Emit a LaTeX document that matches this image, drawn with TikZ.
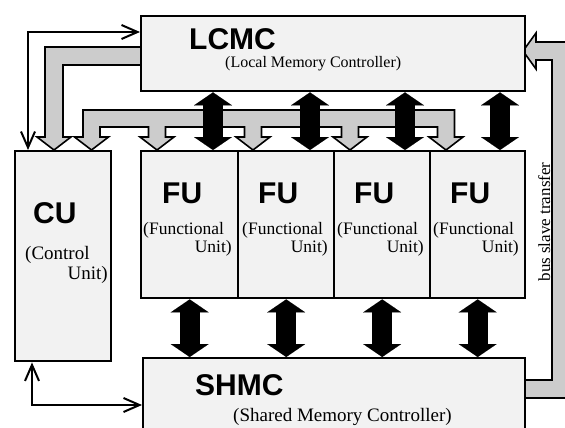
\documentclass[tikz,border=0pt]{standalone}
\usepackage{fontspec}
\setmainfont{Liberation Serif}
\setsansfont{Liberation Sans}
\usetikzlibrary{arrows.meta}
\begin{document}
\begin{tikzpicture}[x=1pt,y=-1pt,
  box/.style={draw, line width=2.4pt, fill=gray!10, inner sep=0pt, anchor=north west},
  band/.style={draw, line width=1.6pt, fill=gray!40, line join=miter},
  bigarrow/.style={line width=20pt,
    {Triangle[width=38pt,length=13pt,line width=0.01pt]}-{Triangle[width=38pt,length=13pt,line width=0.01pt]}},
  thinarr/.style={line width=2pt,
    {Straight Barb[length=16pt,width=14pt]}-{Straight Barb[length=16pt,width=14pt]}},
  title/.style={font=\sffamily\bfseries\fontsize{30}{30}\selectfont, inner sep=0pt, anchor=base west},
  subl/.style={inner sep=0pt, anchor=base west},
  subr/.style={inner sep=0pt, anchor=base east}]
\useasboundingbox (0,0) rectangle (565,428);
\clip (0,0) rectangle (565,428);

% grey buses
\draw[band] (140,47) -- (45,47) -- (45,137) -- (37,137) -- (54,150) -- (71,137) -- (63,137) -- (63,65) -- (140,65);
\draw[band] (83,110) -- (454.5,110) -- (454.5,137) -- (463,137) -- (446,150) -- (429,137) -- (437.5,137) -- (437.5,127)
  -- (358.5,127) -- (358.5,137) -- (367,137) -- (350,150) -- (333,137) -- (341.5,137) -- (341.5,127)
  -- (261.5,127) -- (261.5,137) -- (270,137) -- (253,150) -- (236,137) -- (244.5,137) -- (244.5,127)
  -- (165.5,127) -- (165.5,137) -- (174,137) -- (157,150) -- (140,137) -- (148.5,137) -- (148.5,127)
  -- (100,127) -- (100,137) -- (108.5,137) -- (91.5,150) -- (74.5,137) -- (83,137) -- cycle;
\draw[band] (575,42) -- (536,42) -- (536,33) -- (523,51) -- (536,69) -- (536,60) -- (552,60)
  -- (552,380) -- (524,380) -- (524,398) -- (575,398) -- cycle;

% boxes
\node[box, minimum width=384pt, minimum height=75pt] (LCMC) at (140,15) {};
\node[box, minimum width=96pt, minimum height=210pt] (CU) at (14,150) {};
\node[box, minimum width=97pt, minimum height=147pt] (FU1) at (140,150) {};
\node[box, minimum width=96pt, minimum height=147pt] (FU2) at (237,150) {};
\node[box, minimum width=96pt, minimum height=147pt] (FU3) at (333,150) {};
\node[box, minimum width=95pt, minimum height=147pt] (FU4) at (429,150) {};
\node[box, minimum width=382pt, minimum height=100pt] (SHMC) at (142,357) {};

% black double arrows
\coordinate (a1) at ([xshift=73pt]FU1.north west);
\coordinate (a2) at ([xshift=73pt]FU2.north west);
\coordinate (a3) at ([xshift=72pt]FU3.north west);
\coordinate (a4) at ([xshift=71pt]FU4.north west);
\draw[bigarrow] (a1 |- LCMC.south) -- (a1);
\draw[bigarrow] (a2 |- LCMC.south) -- (a2);
\draw[bigarrow] (a3 |- LCMC.south) -- (a3);
\draw[bigarrow] (a4 |- LCMC.south) -- (a4);
\draw[bigarrow] (FU1.south) -- (FU1.south |- SHMC.north);
\draw[bigarrow] (FU2.south) -- (FU2.south |- SHMC.north);
\draw[bigarrow] (FU3.south) -- (FU3.south |- SHMC.north);
\draw[bigarrow] (FU4.south) -- (FU4.south |- SHMC.north);

% thin arrows
\draw[thinarr] ([xshift=14pt]CU.north west) |- ([yshift=-17pt]LCMC.north west);
\draw[thinarr] ([xshift=18pt]CU.south west) |- ([yshift=-48pt]SHMC.north west);

% texts
\node[title] (tLCMC) at (189,50) {LCMC};
\node[subl, font=\fontsize{16}{16}\selectfont] (tLCMCs) at (225,67) {(Local Memory Controller)};
\node[title] (tCU) at (33,223) {CU};
\node[subl, font=\fontsize{19}{19}\selectfont] (tCU1) at (25,259) {(Control};
\node[subr, font=\fontsize{19}{19}\selectfont] (tCU2) at (108,279) {Unit)};
\node[title] (tFU1) at (162,203) {FU};
\node[title] (tFU2) at (258,203) {FU};
\node[title] (tFU3) at (354,203) {FU};
\node[title] (tFU4) at (450,203) {FU};
\node[subl, font=\fontsize{17.5}{17.5}\selectfont] (tFU1a) at (143,234) {(Functional};
\node[subl, font=\fontsize{17.5}{17.5}\selectfont] (tFU2a) at (242,234) {(Functional};
\node[subl, font=\fontsize{17.5}{17.5}\selectfont] (tFU3a) at (337,234) {(Functional};
\node[subl, font=\fontsize{17.5}{17.5}\selectfont] (tFU4a) at (433,234) {(Functional};
\node[subr, font=\fontsize{17.5}{17.5}\selectfont] (tFU1b) at (232,252) {Unit)};
\node[subr, font=\fontsize{17.5}{17.5}\selectfont] (tFU2b) at (328,252) {Unit)};
\node[subr, font=\fontsize{17.5}{17.5}\selectfont] (tFU3b) at (424,252) {Unit)};
\node[subr, font=\fontsize{17.5}{17.5}\selectfont] (tFU4b) at (519,252) {Unit)};
\node[title] (tSHMC) at (195,395) {SHMC};
\node[subl, font=\fontsize{19}{19}\selectfont] (tSHMCs) at (233,421) {(Shared Memory Controller)};
\node[inner sep=0pt, anchor=base, rotate=90, font=\fontsize{17}{17}\selectfont] (tbus) at (550,222) {bus slave transfer};
\end{tikzpicture}
\end{document}
